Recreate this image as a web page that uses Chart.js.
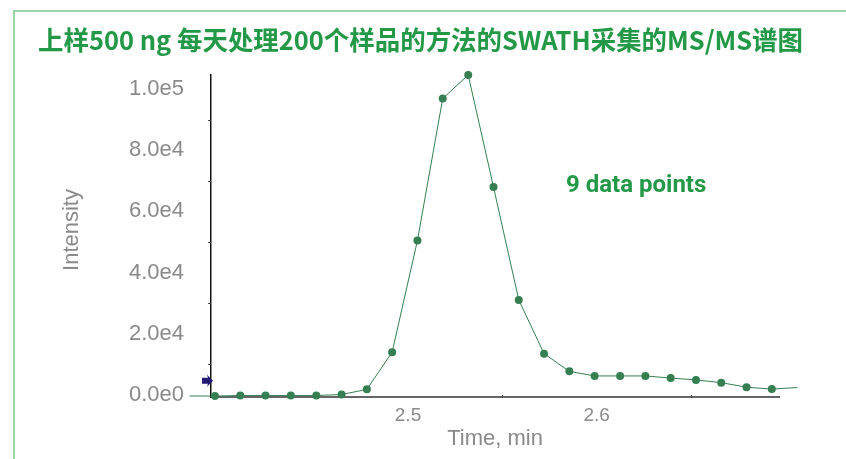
<!DOCTYPE html>
<html>
<head>
<meta charset="utf-8">
<script src="https://cdn.jsdelivr.net/npm/chart.js@4/dist/chart.umd.min.js"></script>
<style>
  html, body { margin: 0; padding: 0; background: #fff; }
  #wrap { position: relative; width: 846px; height: 459px; }
</style>
</head>
<body>
<div id="wrap"><canvas id="chart" width="846" height="459"></canvas></div>
<script>
// values (time in min, intensity in counts)
var times = [2.3843, 2.3977, 2.4111, 2.4245, 2.4379, 2.4514, 2.4648, 2.4782, 2.4916, 2.5050,
  2.5184, 2.5319, 2.5453, 2.5587, 2.5721, 2.5855, 2.5989, 2.6124, 2.6258, 2.6392,
  2.6526, 2.6660, 2.6794, 2.6928, 2.7063];
var intensity = [-460, -500, -300, -300, -300, -300, 0, 1700, 13900, 50500,
  97000, 104700, 68000, 31000, 13400, 7600, 6100, 6100, 6100, 5400,
  4800, 3900, 2400, 1800, 2300];
var xTicks = [2.5, 2.6];
var xMinor = [2.55, 2.65];
var yTicks = [0, 20000, 40000, 60000, 80000, 100000];
var yMinor = [10000, 30000, 50000, 70000, 90000];
var markerLevel = 4500;

var titleText = '上样500 ng 每天处理200个样品的方法的SWATH采集的MS/MS谱图';
var noteText = '9 data points';
var yTitle = 'Intensity';

var points = [];
for (var i = 0; i < times.length; i++) {
  points.push({x: times[i], y: intensity[i]});
}
// first and last samples lie outside the axis range: line only, no dot
var radii = times.map(function(t, i) { return (i === 0 || i === times.length - 1) ? 0 : 4; });

var lineGreen = '#357f52';
var textGray = '#8a8a8a';
var axisFont = '"Liberation Sans", Arial, sans-serif';

// frame, title, note, minor ticks and the arrow marker
var decorations = {
  id: 'decorations',
  beforeDraw: function(chart) {
    var ctx = chart.ctx;
    ctx.save();
    ctx.fillStyle = '#fff';
    ctx.fillRect(0, 0, chart.width, chart.height);
    ctx.strokeStyle = '#7cc690';
    ctx.lineWidth = 1.5;
    ctx.beginPath();
    ctx.moveTo(14, 459);
    ctx.lineTo(14, 11);
    ctx.lineTo(846, 11);
    ctx.stroke();

    ctx.fillStyle = '#239947';
    ctx.font = 'bold 26px "Noto Sans CJK SC", "Noto Sans", sans-serif';
    ctx.textBaseline = 'middle';
    ctx.textAlign = 'left';
    ctx.fillText(titleText, 38, 40, 765);

    ctx.fillStyle = textGray;
    ctx.font = '22px ' + axisFont;
    ctx.textAlign = 'center';
    ctx.translate(72, 230);
    ctx.rotate(-Math.PI / 2);
    ctx.fillText(yTitle, 0, 0);
    ctx.restore();
  },
  afterDraw: function(chart) {
    var ctx = chart.ctx;
    var xs = chart.scales.x, ys = chart.scales.y;
    var area = chart.chartArea;
    ctx.save();
    ctx.strokeStyle = '#444';
    ctx.lineWidth = 1;
    yMinor.forEach(function(v) {
      var y = Math.round(ys.getPixelForValue(v)) + 0.5;
      ctx.beginPath();
      ctx.moveTo(area.left - 3, y);
      ctx.lineTo(area.left, y);
      ctx.stroke();
    });
    xMinor.forEach(function(v) {
      var x = Math.round(xs.getPixelForValue(v)) + 0.5;
      ctx.beginPath();
      ctx.moveTo(x, area.bottom - 2);
      ctx.lineTo(x, area.bottom + 1);
      ctx.stroke();
    });

    // little arrow marker on the intensity axis
    var y = ys.getPixelForValue(markerLevel);
    var x = area.left;
    ctx.fillStyle = '#231a78';
    ctx.beginPath();
    ctx.moveTo(x - 9, y - 3);
    ctx.lineTo(x - 3, y - 3);
    ctx.lineTo(x - 4, y - 6);
    ctx.lineTo(x + 2, y);
    ctx.lineTo(x - 4, y + 6);
    ctx.lineTo(x - 3, y + 3);
    ctx.lineTo(x - 9, y + 3);
    ctx.closePath();
    ctx.fill();

    ctx.fillStyle = '#239947';
    ctx.font = 'bold 24px Roboto, "Noto Sans", sans-serif';
    ctx.textBaseline = 'middle';
    ctx.textAlign = 'left';
    ctx.fillText(noteText, 566, 186, 143);
    ctx.restore();
  }
};

new Chart(document.getElementById('chart'), {
  type: 'line',
  data: {
    datasets: [{
      data: points,
      borderColor: lineGreen,
      backgroundColor: lineGreen,
      borderWidth: 1,
      pointRadius: radii,
      pointBorderWidth: 0,
      pointBackgroundColor: lineGreen,
      tension: 0,
      clip: {left: 25, right: 20, top: 5, bottom: 5}
    }]
  },
  options: {
    responsive: false,
    animation: false,
    layout: { padding: { left: 0, top: 75, right: 67, bottom: 0 } },
    plugins: {
      legend: { display: false },
      tooltip: { enabled: false },
      title: { display: false }
    },
    scales: {
      x: {
        type: 'linear',
        min: 2.3956,
        max: 2.6966,
        afterFit: function(scale) { scale.height = 62; },
        afterBuildTicks: function(scale) {
          scale.ticks = xTicks.map(function(v) { return {value: v}; });
        },
        grid: { display: false, drawTicks: true, tickLength: 4 },
        border: { display: true, color: '#666', width: 2 },
        ticks: {
          color: textGray,
          padding: 3,
          font: { family: axisFont, size: 19 },
          callback: function(v) { return v.toFixed(1); }
        },
        title: {
          display: true,
          text: 'Time, min',
          color: textGray,
          padding: { top: 0, bottom: 7 },
          font: { family: axisFont, size: 22 }
        }
      },
      y: {
        type: 'linear',
        min: -800,
        max: 104700,
        afterFit: function(scale) { scale.width = 211; },
        afterBuildTicks: function(scale) {
          scale.ticks = yTicks.map(function(v) { return {value: v}; });
        },
        grid: { display: false, drawTicks: true, tickLength: 4 },
        border: { display: true, color: '#111', width: 1.5 },
        ticks: {
          color: textGray,
          padding: 23,
          font: { family: axisFont, size: 22 },
          callback: function(v) {
            var s = Number(v).toExponential(1);
            return s.replace('e+', 'e');
          }
        }
      }
    }
  },
  plugins: [decorations]
});
</script>
</body>
</html>
